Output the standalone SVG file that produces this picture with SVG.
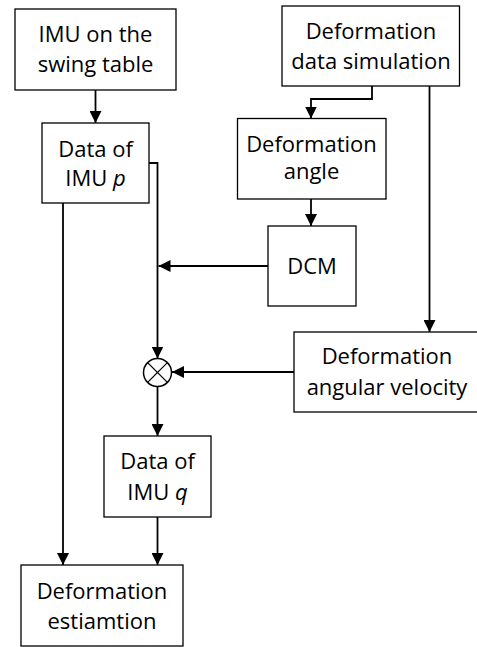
<svg xmlns="http://www.w3.org/2000/svg" width="477" height="647" viewBox="0 0 477 647">
<defs>
<style>
.box{fill:#fff;stroke:#000;stroke-width:1.3}
.t{font-family:"Open Sans","Noto Sans",sans-serif;font-size:22px;fill:#000;text-anchor:middle}
.c{fill:none;stroke:#000;stroke-width:1.8}
</style>
<marker id="ah" viewBox="0 0 12 12" refX="12" refY="6" markerWidth="12" markerHeight="12" markerUnits="userSpaceOnUse" orient="auto">
<path d="M0,0 L12,6 L0,12 z" fill="#000"/>
</marker>
</defs>
<rect width="477" height="647" fill="#fff"/>
<g id="connectors">
<line class="c" x1="95.5" y1="90" x2="95.5" y2="123" marker-end="url(#ah)"/>
<line class="c" x1="63" y1="203" x2="63" y2="565" marker-end="url(#ah)"/>
<path class="c" d="M149,163 H157.5 V358.5" marker-end="url(#ah)"/>
<line class="c" x1="268" y1="266" x2="158.5" y2="266" marker-end="url(#ah)"/>
<path class="c" d="M372,86 V99 H311 V118.5" marker-end="url(#ah)"/>
<line class="c" x1="311" y1="199" x2="311" y2="226" marker-end="url(#ah)"/>
<line class="c" x1="429.5" y1="86" x2="429.5" y2="332" marker-end="url(#ah)"/>
<line class="c" x1="294" y1="372" x2="172" y2="372" marker-end="url(#ah)"/>
<line class="c" x1="157.5" y1="386.5" x2="157.5" y2="436" marker-end="url(#ah)"/>
<line class="c" x1="157.5" y1="517" x2="157.5" y2="565" marker-end="url(#ah)"/>
</g>
<g id="imu-swing">
<rect class="box" x="15" y="9" width="161" height="81"/>
<text class="t" x="95.5" y="41.5">IMU on the</text>
<text class="t" x="95.5" y="72">swing table</text>
</g>
<g id="data-p">
<rect class="box" x="42" y="123" width="107" height="80"/>
<text class="t" x="95.5" y="156.5">Data of</text>
<text class="t" x="95.5" y="186">IMU <tspan font-style="italic">p</tspan></text>
</g>
<g id="sim">
<rect class="box" x="282" y="6" width="177.5" height="80"/>
<text class="t" x="371" y="39">Deformation</text>
<text class="t" x="371" y="68.5">data simulation</text>
</g>
<g id="angle">
<rect class="box" x="237.5" y="118.5" width="148.5" height="80.5"/>
<text class="t" x="311.5" y="151.5">Deformation</text>
<text class="t" x="311.5" y="179">angle</text>
</g>
<g id="dcm">
<rect class="box" x="268" y="226" width="88" height="80"/>
<text class="t" x="312" y="273.5">DCM</text>
</g>
<g id="angvel">
<rect class="box" x="294" y="332" width="186" height="80"/>
<text class="t" x="387" y="364">Deformation</text>
<text class="t" x="387" y="395">angular velocity</text>
</g>
<g id="mult">
<circle cx="157.5" cy="372.5" r="14" fill="#fff" stroke="#000" stroke-width="1.5"/>
<path d="M147.6,362.6 L167.4,382.4 M167.4,362.6 L147.6,382.4" stroke="#000" stroke-width="1.3" fill="none"/>
</g>
<g id="data-q">
<rect class="box" x="104" y="436" width="107" height="81"/>
<text class="t" x="157.5" y="468.5">Data of</text>
<text class="t" x="157.5" y="499.5">IMU <tspan font-style="italic">q</tspan></text>
</g>
<g id="estimation">
<rect class="box" x="21" y="565" width="162" height="81"/>
<text class="t" x="102" y="598.5">Deformation</text>
<text class="t" x="102" y="628.5">estiamtion</text>
</g>
</svg>
